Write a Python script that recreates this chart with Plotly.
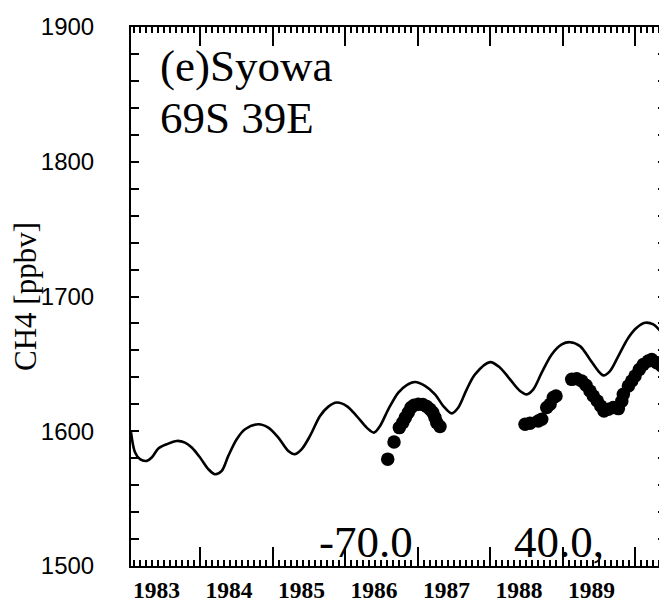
import plotly.graph_objects as go

# ---- data ----
model_year = [1983.048, 1983.103, 1983.172, 1983.265, 1983.334, 1983.425, 1983.541, 1983.679,
              1983.793, 1983.886, 1984.000, 1984.114, 1984.207, 1984.299, 1984.390, 1984.506,
              1984.621, 1984.804, 1984.942, 1985.080, 1985.218, 1985.310, 1985.403, 1985.517,
              1985.655, 1985.770, 1985.886, 1986.023, 1986.161, 1986.299, 1986.400, 1986.483,
              1986.597, 1986.735, 1986.851, 1986.966, 1987.103, 1987.241, 1987.356, 1987.472,
              1987.563, 1987.679, 1987.793, 1988.000, 1988.138, 1988.276, 1988.414, 1988.506,
              1988.597, 1988.713, 1988.851, 1988.989, 1989.103, 1989.241, 1989.379, 1989.494,
              1989.563, 1989.655, 1989.770, 1989.908, 1990.023, 1990.138, 1990.252, 1990.368,
              1990.441, 1990.552]
model_ch4 = [1599.3, 1584.4, 1579.3, 1578.0, 1580.5, 1587.2, 1590.4, 1592.8,
             1591.6, 1587.9, 1580.5, 1571.9, 1568.1, 1570.6, 1581.7, 1594.1,
             1601.5, 1605.2, 1602.7, 1595.3, 1585.4, 1583.0, 1586.7, 1596.5,
             1611.3, 1618.3, 1621.3, 1618.7, 1611.3, 1602.7, 1599.0, 1603.9,
             1616.3, 1628.7, 1634.3, 1636.5, 1633.6, 1627.4, 1618.7, 1613.3,
             1617.6, 1631.1, 1642.2, 1651.3, 1647.2, 1638.5, 1629.9, 1627.4,
             1631.1, 1643.5, 1657.0, 1664.4, 1666.1, 1663.2, 1653.3, 1644.7,
             1641.5, 1644.7, 1655.8, 1669.4, 1676.8, 1680.5, 1679.3, 1673.1,
             1668.1, 1660.7]

obs_year_a = [1986.589, 1986.676, 1986.749, 1986.796, 1986.832, 1986.873, 1986.910, 1986.952,
              1987.011, 1987.072, 1987.127, 1987.172, 1987.210, 1987.241, 1987.265, 1987.310]
obs_ch4_a = [1579.3, 1592.1, 1602.7, 1606.4, 1610.1, 1613.9, 1617.6, 1619.3,
             1620.0, 1619.8, 1618.3, 1616.3, 1613.9, 1610.1, 1606.4, 1603.5]
obs_year_b = [1988.483, 1988.552, 1988.666, 1988.713, 1988.782, 1988.828, 1988.873, 1988.910]
obs_ch4_b = [1605.2, 1605.9, 1607.6, 1608.9, 1617.6, 1620.0, 1625.0, 1626.1]
obs_year_c = [1989.127, 1989.196, 1989.265, 1989.324, 1989.379, 1989.425, 1989.480, 1989.527,
              1989.572, 1989.632, 1989.701, 1989.770, 1989.817, 1989.839, 1989.908, 1989.954,
              1990.000, 1990.059, 1990.114, 1990.183, 1990.230, 1990.299, 1990.368, 1990.437,
              1990.510]
obs_ch4_c = [1638.5, 1639.0, 1637.3, 1634.1, 1629.9, 1626.1, 1622.4, 1618.7,
             1615.0, 1616.3, 1617.6, 1616.8, 1622.2, 1627.4, 1633.6, 1637.3,
             1641.0, 1645.9, 1649.6, 1652.1, 1653.3, 1650.9, 1648.4, 1644.7,
             1640.7]

year_ticks = [1983, 1984, 1985, 1986, 1987, 1988, 1989, 1990]
year_label_pos = [1983.4, 1984.4, 1985.4, 1986.4, 1987.4, 1988.4, 1989.4]
year_labels = ["1983", "1984", "1985", "1986", "1987", "1988", "1989"]
ch4_ticks = list(range(1500, 1901, 20))
ch4_labels = [str(v) if v % 100 == 0 else "" for v in ch4_ticks]

x_range = [1983.048, 1990.441]
y_range = [1500, 1900]

SERIF = "Liberation Serif, Times New Roman, serif"
SANS = "Liberation Sans, Arial, sans-serif"

fig = go.Figure()
fig.add_trace(go.Scatter(x=model_year, y=model_ch4, mode="lines",
                         line=dict(color="black", width=2.6, shape="spline", smoothing=0.9),
                         showlegend=False, hoverinfo="skip"))
obs_marker = dict(color="black", size=13.5, line=dict(width=0))
fig.add_trace(go.Scatter(x=obs_year_a + [None] + obs_year_b, y=obs_ch4_a + [None] + obs_ch4_b,
                         mode="markers", marker=obs_marker, showlegend=False, hoverinfo="skip",
                         xaxis="x2", yaxis="y2"))
fig.add_trace(go.Scatter(x=obs_year_c, y=obs_ch4_c, mode="markers", marker=obs_marker,
                         showlegend=False, hoverinfo="skip", xaxis="x3", yaxis="y2"))

tick_common = dict(range=x_range, showgrid=False, zeroline=False,
                   tickmode="array", tickvals=year_ticks, showticklabels=False,
                   ticks="inside", ticklen=19, tickwidth=1.6, tickcolor="black",
                   minor=dict(tickmode="linear", tick0=1983, dtick=1 / 12, ticks="inside",
                              ticklen=6, tickwidth=1.5, tickcolor="black"))

# page body has an 8px margin: plot area spans x 131..667, y 27..567 in the window
fig.update_layout(
    width=659, height=595,
    margin=dict(l=123, r=0, t=19, b=28),
    paper_bgcolor="white", plot_bgcolor="white",
    xaxis=dict(range=x_range, showgrid=False, zeroline=False,
               showline=True, linecolor="black", linewidth=2,
               tickmode="array", tickvals=year_label_pos, ticktext=year_labels,
               ticks="", ticklabelstandoff=2,
               tickfont=dict(family=SERIF, size=23.5, color="black", weight="bold")),
    xaxis2=dict(overlaying="x", side="bottom", anchor="y", showline=False, **tick_common),
    xaxis3=dict(overlaying="x", side="top", anchor="y", showline=True,
                linecolor="black", linewidth=2, **tick_common),
    yaxis=dict(range=y_range, showgrid=False, zeroline=False,
               showline=True, linecolor="black", linewidth=2, mirror=False,
               tickmode="array", tickvals=ch4_ticks, ticktext=ch4_labels,
               ticks="inside", ticklen=8, tickwidth=2, tickcolor="black",
               ticklabelstandoff=30,
               tickfont=dict(family=SANS, size=24, color="black"),
               title=dict(text="CH4 [ppbv]", standoff=3,
                          font=dict(family=SERIF, size=31, color="black"))),
    yaxis2=dict(range=y_range, overlaying="y", side="right", anchor="x",
                showgrid=False, zeroline=False, showline=False,
                tickmode="array", tickvals=ch4_ticks, showticklabels=False,
                ticks="inside", ticklen=9, tickwidth=2.2, tickcolor="black"),
)

ann_font = dict(family=SERIF, size=45, color="black")
fig.add_annotation(text="(e)Syowa", xref="paper", yref="paper", x=(158 - 131) / 536,
                   y=(567 - 66) / 540, xanchor="left", yanchor="middle", showarrow=False, font=ann_font)
fig.add_annotation(text="69S 39E", xref="paper", yref="paper", x=(158 - 131) / 536,
                   y=(567 - 118) / 540, xanchor="left", yanchor="middle", showarrow=False, font=ann_font)
fig.add_annotation(text="-70.0", xref="paper", yref="paper", x=(317 - 131) / 536,
                   y=(567 - 543) / 540, xanchor="left", yanchor="middle", showarrow=False, font=ann_font)
fig.add_annotation(text="40.0,", xref="paper", yref="paper", x=(512 - 131) / 536,
                   y=(567 - 543) / 540, xanchor="left", yanchor="middle", showarrow=False, font=ann_font)

fig.write_html("out.html")
